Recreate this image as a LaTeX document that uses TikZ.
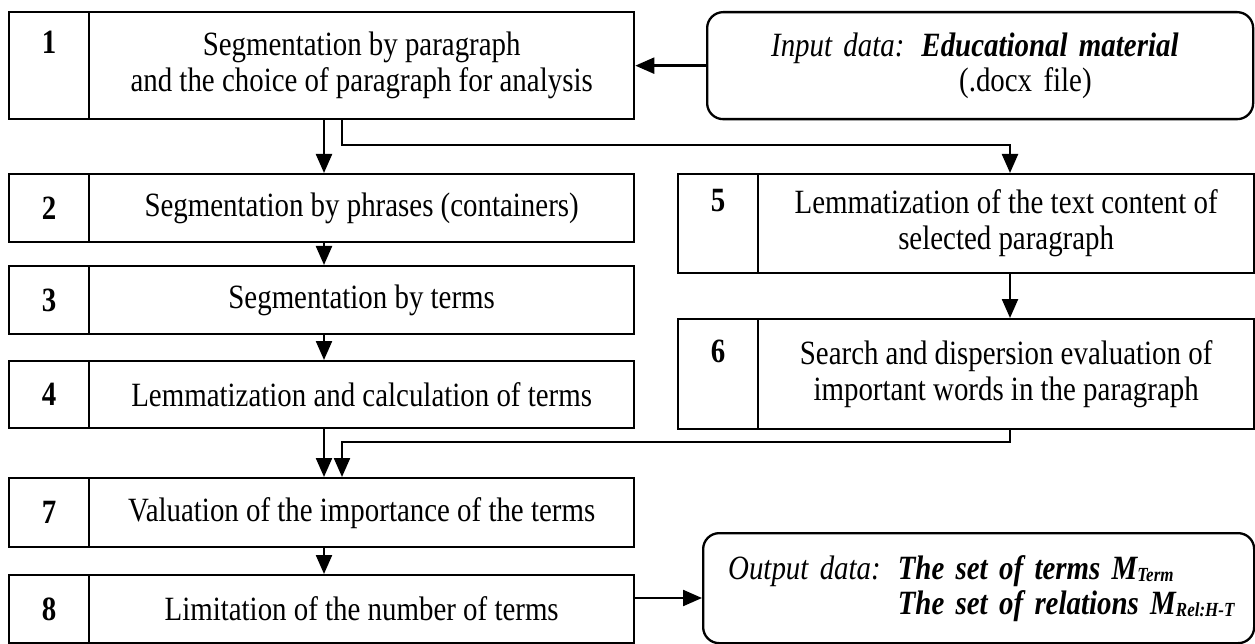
\documentclass[tikz,border=0pt]{standalone}
\usepackage{fontspec}
\setmainfont{Liberation Serif}[FakeStretch=0.85]
\usetikzlibrary{arrows.meta}
\begin{document}
\begin{tikzpicture}[x=1pt,y=-1pt,
  line width=2.3pt,
  cell/.style={draw, rectangle, inner sep=0pt, anchor=north west, align=center,
    font=\fontsize{34}{36}\selectfont},
  numcell/.style={cell, font=\fontsize{34}{36}\selectfont\bfseries, minimum width=80pt},
  leftcell/.style={cell, minimum width=545pt},
  rightcell/.style={cell, minimum width=496pt},
  databox/.style={draw, rectangle, rounded corners=16pt, inner sep=0pt, anchor=north west,
    align=left, font=\fontsize{34}{35}\selectfont},
  subtext/.style={},
  flow/.style={-{Triangle[width=16pt,length=19pt]}, line width=2.3pt}
]
\useasboundingbox (0,0) rectangle (1255,644);

% connector columns and bends
\coordinate (colA) at (324,0);
\coordinate (colB) at (342,0);
\coordinate (colR) at (1010,0);
\coordinate (split) at (342,145);
\coordinate (merge) at (342,442);
\coordinate (arrow8) at (0,598);

% left column of steps
\node[numcell, minimum height=107pt] (n1) at (8,11) {1\\\strut};
\node[leftcell, minimum height=107pt] (t1) at (88,11) {Segmentation by paragraph\\and the choice of paragraph for analysis};

\node[numcell, minimum height=68pt] (n2) at (8,173) {2};
\node[leftcell, minimum height=68pt] (t2) at (88,173) {Segmentation by phrases (containers)};

\node[numcell, minimum height=68pt] (n3) at (8,265) {3};
\node[leftcell, minimum height=68pt] (t3) at (88,265) {Segmentation by terms};

\node[numcell, minimum height=67pt] (n4) at (8,360) {4};
\node[leftcell, minimum height=67pt] (t4) at (88,360) {Lemmatization and calculation of terms};

\node[numcell, minimum height=69pt] (n7) at (8,477) {7};
\node[leftcell, minimum height=69pt] (t7) at (88,477) {Valuation of the importance of the terms};

\node[numcell, minimum height=68pt] (n8) at (8,574) {8};
\node[leftcell, minimum height=68pt] (t8) at (88,574) {Limitation of the number of terms};

% right column of steps
\node[numcell, minimum height=99pt] (n5) at (677,173) {5\\\strut};
\node[rightcell, minimum height=99pt] (t5) at (757,173) {Lemmatization of the text content of\\selected paragraph};

\node[numcell, minimum height=110pt] (n6) at (677,318) {6\\\strut};
\node[rightcell, minimum height=110pt] (t6) at (757,318) {Search and dispersion evaluation of\\important words in the paragraph};

% input and output data
\node[databox, minimum width=546pt, minimum height=107pt, text width=546pt] (inp) at (706,11)
  {\hspace*{64pt}\textit{Input data: \textbf{Educational material}}\\
   \hspace*{252pt}(.docx file)};

\node[databox, minimum width=551pt, minimum height=110pt, text width=551pt] (out) at (702,532)
  {\hspace*{25pt}\textit{Output data: \textbf{The set of terms M\raisebox{-2pt}{\fontsize{20}{20}\selectfont Term}}}\\
   \hspace*{25pt}\phantom{\textit{Output data: }}\textit{\textbf{The set of relations M\raisebox{-2pt}{\fontsize{20}{20}\selectfont Rel:H-T}}}};

% connectors
\draw[flow] (inp.west) -- (t1.east);
\draw[flow] (t1.south -| colA) -- (t2.north -| colA);
\draw[flow] (t1.south -| colB) -- (split) -| (t5.north -| colR);
\draw[flow] (t2.south -| colA) -- (t3.north -| colA);
\draw[flow] (t3.south -| colA) -- (t4.north -| colA);
\draw[flow] (t5.south -| colR) -- (t6.north -| colR);
\draw[flow] (t4.south -| colA) -- (t7.north -| colA);
\draw[flow] (t6.south -| colR) |- (merge) -- (t7.north -| colB);
\draw[flow] (t7.south -| colA) -- (t8.north -| colA);
\draw[flow] (t8.east |- arrow8) -- (out.west |- arrow8);
\end{tikzpicture}
\end{document}
